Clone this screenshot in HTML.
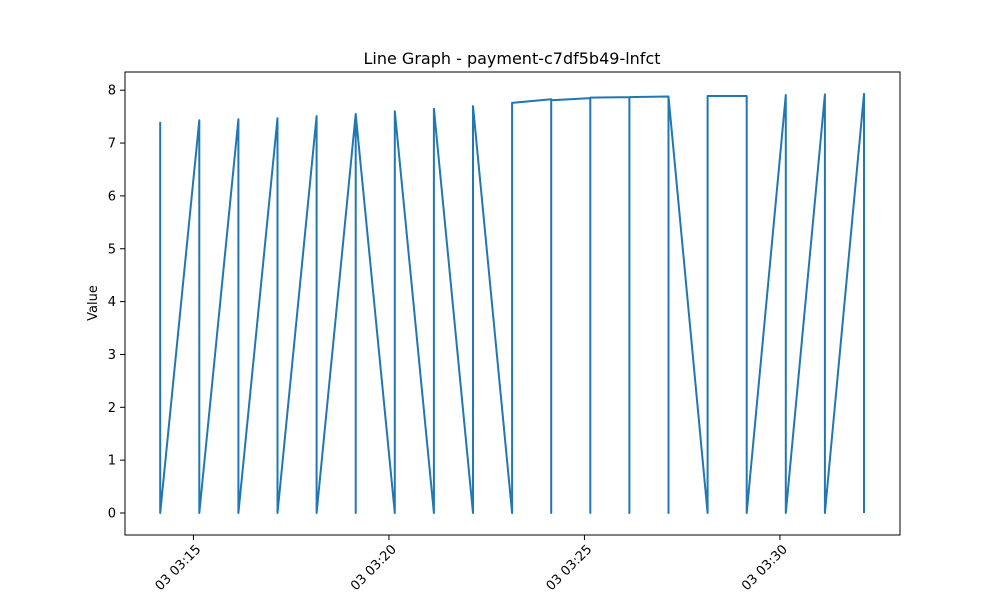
<!DOCTYPE html>
<html><head><meta charset="utf-8"><style>
body{margin:0;background:#fff;font-family:"Liberation Sans","DejaVu Sans",sans-serif;}
svg text{font-family:"DejaVu Sans","Liberation Sans",sans-serif;}
</style></head><body>
<svg id="chart" width="1000" height="600" viewBox="0 0 1000 600" xmlns="http://www.w3.org/2000/svg">
<rect width="1000" height="600" fill="#fff"/>
<text x="512" y="64" text-anchor="middle" font-size="16">Line Graph - payment-c7df5b49-lnfct</text>
<g id="plot"></g>
<rect x="125" y="72" width="775" height="463" fill="none" stroke="#000" stroke-width="1"/>
<text transform="translate(97,303) rotate(-90)" text-anchor="middle" font-size="13">Value</text>
</svg>
<script>
// minutes after 03:00
const times = [14.15,14.15,15.15,15.15,16.15,16.15,17.15,17.15,18.15,18.15,19.15,19.15,19.15,20.15,20.15,21.15,21.15,22.15,22.15,23.15,23.15,24.15,24.15,24.15,25.15,25.15,25.15,26.15,26.15,26.15,27.15,27.15,27.15,28.15,28.15,29.15,29.15,30.15,30.15,31.15,31.15,32.15,32.15];
const values = [7.4,0,7.43,0,7.45,0,7.47,0,7.51,0,7.55,0,7.55,0,7.6,0,7.65,0,7.7,0,7.76,7.83,0,7.81,7.85,0,7.86,7.87,0,7.87,7.88,0,7.88,0,7.89,7.89,0,7.91,0,7.92,0,7.93,0];
const yTicks = [0,1,2,3,4,5,6,7,8];
const xTicks = [15,20,25,30];
const xTickLabels = ["03 03:15","03 03:20","03 03:25","03 03:30"];
const NS="http://www.w3.org/2000/svg";
const xs = m => 160.2 + (m-14.15)*39.1;
const ys = v => 513 - v*52.85;
const plot=document.getElementById('plot');
function mk(tag,attrs){const e=document.createElementNS(NS,tag);for(const k in attrs)e.setAttribute(k,attrs[k]);return e;}
yTicks.forEach(v=>{
  const t=mk('line',{x1:120,x2:125,y1:ys(v),y2:ys(v),stroke:'#000'});
  
  
  plot.appendChild(t);
  const l=mk('text',{x:116,y:ys(v)+4.5,'text-anchor':'end','font-size':13});
  
  
  l.textContent=v;plot.appendChild(l);
});
xTicks.forEach((m,i)=>{
  const t=mk('line',{x1:xs(m),x2:xs(m),y1:535,y2:540,stroke:'#000'});
  
  
  plot.appendChild(t);
  const l=mk('text',{x:0,y:0,'text-anchor':'end','font-size':13,transform:`translate(${xs(m)+8},${550}) rotate(-45)`});
  
  
  l.textContent=xTickLabels[i];plot.appendChild(l);
});
const pts=times.map((t,i)=>xs(t).toFixed(1)+','+ys(values[i]).toFixed(1)).join(' ');
const line=mk('polyline',{points:pts,fill:'none',stroke:'#1f77b4','stroke-width':2,'stroke-linejoin':'round'});


plot.appendChild(line);
</script>
</body></html>
